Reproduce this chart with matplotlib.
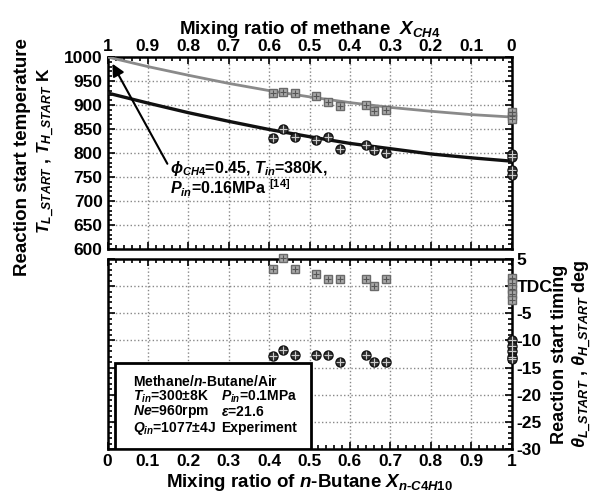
import numpy as np
import matplotlib
matplotlib.use('Agg')
import matplotlib.pyplot as plt
from matplotlib.ticker import MultipleLocator, FuncFormatter
from matplotlib.patches import Rectangle

plt.rcParams['font.family'] = ['Liberation Sans', 'DejaVu Sans']
plt.rcParams['font.weight'] = 'bold'
plt.rcParams['axes.labelweight'] = 'bold'
plt.rcParams['mathtext.fontset'] = 'custom'
plt.rcParams['mathtext.rm'] = 'Liberation Sans:bold'
plt.rcParams['mathtext.it'] = 'Liberation Sans:italic:bold'
plt.rcParams['mathtext.bf'] = 'Liberation Sans:bold'

# mixing ratio of n-butane for measured points
x_meas = [0.41, 0.435, 0.465, 0.515, 0.545, 0.575, 0.64, 0.66, 0.69]
th_meas = [926, 927, 926, 918, 906, 897, 901, 887, 890]
tl_meas = [832, 851, 834, 828, 834, 809, 816, 807, 800]
x_pure = 1.0
th_pure = [885, 878, 870]
tl_pure = [798, 792, 765, 755]

# reaction start timing (deg)
ang_h = [3.2, 5.1, 3.2, 2.25, 1.3, 1.3, 1.3, 0.1, 1.3]
ang_l = [-12.9, -11.8, -12.7, -12.7, -12.7, -13.9, -12.7, -13.9, -13.9]
ang_h_pure = [1.5, 0.5, -0.5, -1.5, -2.5]
ang_l_pure = [-10, -11, -12, -13, -13.5]

# reference curves [14]
x_curve = [0, 0.1, 0.2, 0.3, 0.4, 0.5, 0.6, 0.7, 0.8, 0.9, 1.0]
th_curve = [1000, 980, 962, 945, 930, 917, 905, 895, 887, 880, 875]
tl_curve = [925, 904, 884, 866, 849, 834, 820, 809, 798, 790, 783]

GRAY_F = '#a8a8a8'
GRAY_E = '#6a6a6a'
GRAY_L = '#8a8a8a'

fig = plt.figure(figsize=(5.95, 5.0), dpi=100)
ax1 = fig.add_axes([0.1807, 0.502, 0.679, 0.384])
ax2 = fig.add_axes([0.1807, 0.102, 0.679, 0.380])

fmt = FuncFormatter(lambda v, p: '%g' % round(v, 2))


def style(ax):
    ax.set_xlim(0, 1)
    ax.xaxis.set_major_locator(MultipleLocator(0.1))
    ax.xaxis.set_minor_locator(MultipleLocator(0.02))
    ax.tick_params(which='both', direction='in', top=True, right=True, width=1.2)
    ax.tick_params(which='major', length=5)
    ax.tick_params(which='minor', length=3)
    for s in ax.spines.values():
        s.set_linewidth(1.8)


def sq(ax, x, y):
    ax.plot(x, y, 's', ms=6, mfc=GRAY_F, mec=GRAY_E, mew=1, clip_on=False, zorder=4)
    ax.plot(x, y, '+', ms=5, mec='#555555', mew=0.8, clip_on=False, zorder=5)


def circ(ax, x, y):
    ax.plot(x, y, 'o', ms=6.5, mfc='#333333', mec='#111111', mew=1, clip_on=False, zorder=4)
    ax.plot(x, y, '+', ms=6, mec='#cccccc', mew=0.8, clip_on=False, zorder=5)


# upper panel: temperature
style(ax1)
ax1.set_ylim(600, 1000)
ax1.yaxis.set_major_locator(MultipleLocator(50))
ax1.yaxis.set_minor_locator(MultipleLocator(10))
ax1.tick_params(axis='x', labelbottom=False)
ax1.tick_params(axis='y', labelsize=12.5)
ax1.plot(x_curve, th_curve, color=GRAY_L, lw=2, zorder=3)
ax1.plot(x_curve, tl_curve, color='#111111', lw=2.4, zorder=3)
sq(ax1, x_meas, th_meas)
sq(ax1, [x_pure] * len(th_pure), th_pure)
circ(ax1, x_meas, tl_meas)
circ(ax1, [x_pure] * len(tl_pure), tl_pure)
ax1.set_ylabel('Reaction start temperature', fontsize=13.5)
ax1.yaxis.set_label_coords(-0.19, 0.48)
ax1.text(-0.153, 0.51, r'$T_{L\_START}$ , $T_{H\_START}$ K', transform=ax1.transAxes,
         rotation=90, ha='center', va='center', fontsize=12.5)

top = ax1.secondary_xaxis('top', functions=(lambda v: 1 - v, lambda v: 1 - v))
top.xaxis.set_major_locator(MultipleLocator(0.1))
top.xaxis.set_major_formatter(fmt)
top.tick_params(labelsize=12.5, direction='in', length=0, pad=2)
top.spines['top'].set_visible(False)
top.set_xlabel(r'Mixing ratio of methane  $X_{CH4}$', fontsize=13.5, labelpad=4)

ax1.annotate('$\\phi_{CH4}$=0.45, $T_{in}$=380K,\n$P_{in}$=0.16MPa $^{[14]}$',
             xy=(0.012, 986), xytext=(0.155, 746), fontsize=11.5,
             va='center', ha='left', linespacing=1.0,
             arrowprops=dict(arrowstyle='-|>', color='black', lw=1.5,
                             mutation_scale=18, shrinkA=0, shrinkB=0,
                             relpos=(0.0, 0.75)),
             zorder=6)

# lower panel: timing
style(ax2)
ax2.set_ylim(-30, 5)
ax2.yaxis.set_major_locator(MultipleLocator(5))
ax2.yaxis.set_minor_locator(MultipleLocator(1))
ax2.xaxis.set_major_formatter(fmt)
ax2.tick_params(axis='y', labelleft=False, labelright=True, labelsize=12.5)
ax2.tick_params(axis='x', labelsize=12.5)
ax2.yaxis.set_major_formatter(FuncFormatter(lambda v, p: 'TDC' if abs(v) < 1e-9 else '%g' % v))
sq(ax2, x_meas, ang_h)
sq(ax2, [x_pure] * len(ang_h_pure), ang_h_pure)
circ(ax2, x_meas, ang_l)
circ(ax2, [x_pure] * len(ang_l_pure), ang_l_pure)
ax2.yaxis.set_label_position('right')
ax2.set_ylabel('Reaction start timing\n'
               r'$\theta_{L\_START}$ , $\theta_{H\_START}$ deg', fontsize=13,
               rotation=90, labelpad=-1)
ax2.set_xlabel(r'Mixing ratio of $n$-Butane $X_{n\text{-}C4H10}$', fontsize=13.5, labelpad=2)

box = Rectangle((0.0186, 0.0), 0.486, 0.452, transform=ax2.transAxes,
                facecolor='white', edgecolor='black', lw=2, zorder=6)
ax2.add_patch(box)
lines_l = ['Methane/$n$-Butane/Air', '$T_{in}$=300±8K', '$Ne$=960rpm', '$Q_{in}$=1077±4J']
lines_r = ['', '$P_{in}$=0.1MPa', r'$\varepsilon$=21.6', 'Experiment']
ys = [0.355, 0.275, 0.195, 0.11]
for a, b, yy in zip(lines_l, lines_r, ys):
    ax2.text(0.063, yy, a, transform=ax2.transAxes, fontsize=10, va='center', zorder=7)
    if b:
        ax2.text(0.282, yy, b, transform=ax2.transAxes, fontsize=10, va='center', zorder=7)

# dotted grid on both panels
for ax in (ax1, ax2):
    ax.set_axisbelow(True)
    ax.xaxis.grid(True, which='major', linestyle=':', color='#888888', linewidth=1.0)
    ax.yaxis.grid(True, which='major', linestyle=':', color='#888888', linewidth=1.0)

fig.savefig('out.png', dpi=100)
